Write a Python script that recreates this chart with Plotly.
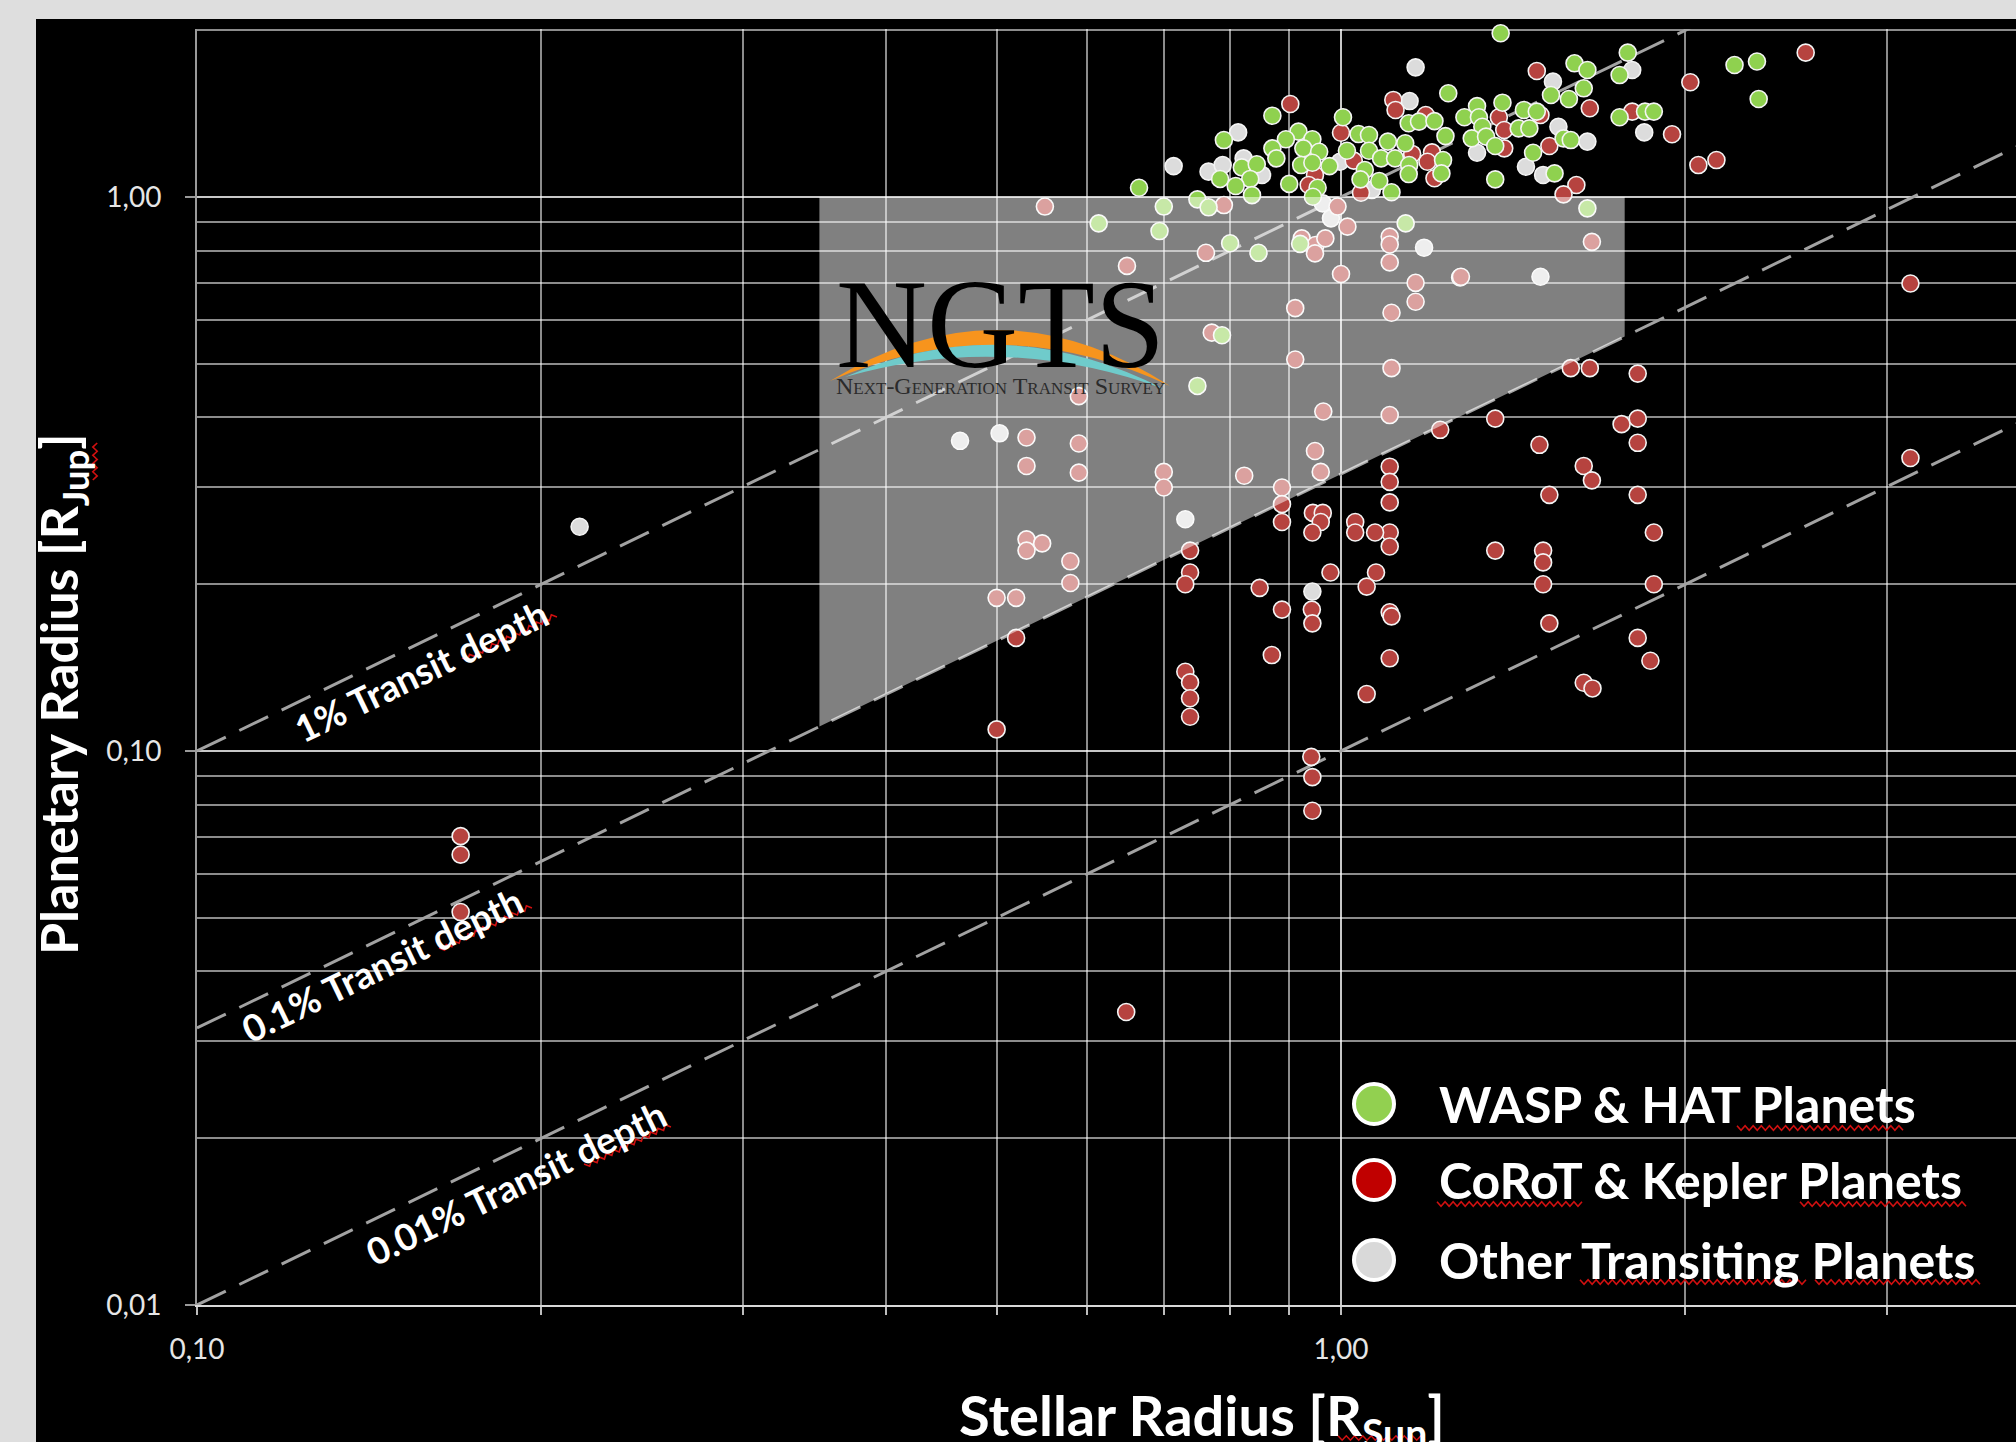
import math
import plotly.graph_objects as go

# ---------------------------------------------------------------
# Known transiting planets: stellar radius [R_sun] vs planet radius [R_jup]
# ---------------------------------------------------------------
wasp_hat_rs = [1.241, 0.871, 1.004, 1.146, 1.170, 1.207, 0.790, 1.036, 1.058, 0.918,
               0.895, 0.944, 0.871, 0.878, 0.927, 0.957, 1.012, 1.058, 1.099, 1.138,
               1.234, 0.819, 0.844, 0.784, 0.833, 0.809, 0.836, 0.923, 0.944, 0.977,
               1.084, 1.115, 1.147, 1.146, 1.228, 1.224, 1.049, 0.954, 0.945, 0.901,
               1.040, 1.080, 1.107, 0.666, 0.749, 0.766, 0.700, 0.614, 0.694, 1.139,
               0.921, 0.800, 0.847, 0.787, 0.749, 1.379, 1.781, 1.600, 1.642, 1.752,
               1.630, 1.526, 1.582, 1.384, 1.315, 1.282, 1.320, 1.445, 1.483, 1.752,
               1.844, 1.877, 2.208, 2.310, 2.318, 1.329, 1.430, 1.461, 1.301, 1.339,
               1.364, 1.472, 1.565, 1.588, 1.537, 1.364, 1.642]
wasp_hat_rp = [1.539, 1.402, 1.393, 1.359, 1.368, 1.371, 1.267, 1.299, 1.294, 1.312,
               1.271, 1.271, 1.224, 1.174, 1.224, 1.207, 1.212, 1.212, 1.259, 1.250,
               1.288, 1.131, 1.146, 1.078, 1.078, 1.047, 1.008, 1.142, 1.153, 1.137,
               1.174, 1.174, 1.142, 1.100, 1.166, 1.103, 1.119, 1.039, 1.001, 1.056,
               1.076, 1.069, 1.020, 1.039, 0.990, 0.958, 0.961, 0.896, 0.868, 0.896,
               0.823, 0.825, 0.793, 0.563, 0.456, 1.975, 1.822, 1.743, 1.695, 1.660,
               1.571, 1.528, 1.503, 1.480, 1.459, 1.393, 1.393, 1.436, 1.426, 1.393,
               1.426, 1.426, 1.731, 1.756, 1.503, 1.339, 1.330, 1.330, 1.276, 1.285,
               1.236, 1.202, 1.276, 1.267, 1.103, 1.076, 0.954]

corot_kepler_rs = [1.111, 1.116, 1.186, 0.903, 1.000, 1.154, 1.201, 1.190, 1.026, 1.207,
                   0.949, 0.937, 1.041, 0.790, 0.551, 0.993, 1.013, 0.924, 0.950, 0.949,
                   0.969, 1.103, 1.103, 0.762, 0.650, 1.103, 1.000, 1.162, 1.162, 1.271,
                   0.912, 1.107, 0.771, 0.912, 1.107,
                   1.483, 1.650, 1.374, 1.494, 1.797, 1.947, 2.020, 2.548, 2.053, 2.129,
                   1.389, 1.389, 1.521, 1.606, 1.565, 1.657, 1.273, 3.146, 1.588, 1.650,
                   1.817,
                   0.590, 0.965, 1.103, 0.531, 0.590, 0.531, 0.590, 0.949, 0.960, 0.700,
                   0.700, 0.823, 0.888, 0.888, 0.888, 1.221, 1.103, 1.103, 1.103, 1.103,
                   1.103, 0.945, 0.964, 0.960, 0.944, 1.029, 1.029, 1.071, 0.531, 0.548,
                   0.531, 0.580, 0.580, 0.500, 0.520, 0.738, 0.738, 0.731, 0.849, 0.979,
                   1.073, 1.053, 0.888, 0.943, 0.944, 1.103, 1.107, 0.520, 0.870, 1.103,
                   0.731, 0.738, 0.738, 0.738, 1.053, 0.500, 0.942, 0.944, 0.944,
                   1.364, 1.759, 1.817, 1.817, 1.491, 1.630, 1.657, 1.521, 1.817, 1.877,
                   1.364, 1.502, 1.502, 1.502, 1.877, 1.521, 1.817, 1.864, 1.630, 1.659,
                   3.146,
                   0.170, 0.170, 0.170, 0.649]
corot_kepler_rp = [1.497, 1.436, 1.406, 1.472, 1.306, 1.196, 1.204, 1.158, 1.163, 1.081,
                   1.096, 1.051, 1.018, 0.967, 0.961, 0.961, 0.884, 0.842, 0.819, 0.791,
                   0.842, 0.848, 0.821, 0.793, 0.751, 0.762, 0.726, 0.700, 0.647, 0.716,
                   0.630, 0.618, 0.569, 0.509, 0.491,
                   1.688, 1.446, 1.393, 1.406, 1.426, 1.298, 1.611, 1.822, 1.142, 1.166,
                   1.321, 1.224, 1.236, 1.051, 1.011, 0.830, 0.718, 0.698, 0.491, 0.491,
                   0.480,
                   0.437, 0.410, 0.404, 0.368, 0.359, 0.327, 0.318, 0.348, 0.319, 0.319,
                   0.299, 0.314, 0.299, 0.279, 0.259, 0.380, 0.326, 0.306, 0.281, 0.248,
                   0.234, 0.269, 0.269, 0.259, 0.248, 0.259, 0.248, 0.248, 0.241, 0.237,
                   0.230, 0.220, 0.201, 0.189, 0.189, 0.230, 0.210, 0.200, 0.197, 0.210,
                   0.210, 0.198, 0.180, 0.180, 0.170, 0.178, 0.175, 0.160, 0.149, 0.147,
                   0.139, 0.133, 0.1245, 0.1153, 0.1267, 0.1094, 0.0976, 0.0897, 0.0780,
                   0.398, 0.389, 0.398, 0.360, 0.357, 0.327, 0.308, 0.290, 0.290, 0.248,
                   0.230, 0.230, 0.219, 0.200, 0.200, 0.170, 0.160, 0.1455, 0.1328, 0.1297,
                   0.338,
                   0.0702, 0.0650, 0.0512, 0.0338]

other_rs = [1.162, 1.148, 0.813, 0.714, 0.766, 0.788, 0.822, 0.853, 0.998, 1.064,
            0.964, 0.980, 1.182, 1.532, 1.797, 1.549, 1.841, 1.315, 1.642, 1.451,
            1.502, 1.494, 0.4645, 0.503, 0.731, 0.944, 0.216]
other_rp = [1.714, 1.490, 1.308, 1.137, 1.111, 1.142, 1.174, 1.096, 1.158, 1.030,
            0.974, 0.915, 0.810, 1.615, 1.695, 1.339, 1.308, 1.202, 1.259, 1.134,
            1.096, 0.718, 0.363, 0.3745, 0.262, 0.194, 0.254]

# Transit depth guide lines (depth = (Rp/Rs)^2)
transit_depths = [0.01, 0.001, 0.0001]
transit_labels = ["1% Transit depth", "0.1% Transit depth", "0.01% Transit depth"]
label_rs = [0.157, 0.145, 0.190]
label_yshift = [-28, -26, -32]
guide_rs = [0.1, 4.0]
R_JUP_IN_RSUN = 0.1

# NGTS sensitivity window
ngts_rs = [0.35, 1.77]
ngts_rp_max = 1.0
ngts_depth_min = 0.001

x_tickvals = [0.1, 1.0]
x_ticktext = ["0,10", "1,00"]
y_tickvals = [0.01, 0.1, 1.0]
y_ticktext = ["0,01", "0,10", "1,00"]
x_minor = [0.2, 0.3, 0.4, 0.5, 0.6, 0.7, 0.8, 0.9, 2, 3]
y_minor = [0.02, 0.03, 0.04, 0.05, 0.06, 0.07, 0.08, 0.09,
           0.2, 0.3, 0.4, 0.5, 0.6, 0.7, 0.8, 0.9, 2]

legend_names = ["WASP & HAT Planets", "CoRoT & Kepler Planets", "Other Transiting Planets"]
legend_colors = ["#92d050", "#c00000", "#d9d9d9"]

GREEN = "#8fd14f"
RED = "#b6433f"
GREY = "#dcdcdc"

# ---------------------------------------------------------------
W, H = 2016, 1442
ML, MT, MB = 197, 29, 137
PW, PH = W - ML, H - MT - MB
DEC_X, DEC_Y = 1144.0, 554.0
SLOPE_DEG = math.degrees(math.atan(DEC_Y / DEC_X))


def px(X):
    return (X - ML) / PW


def py(Y):
    return (H - MB - Y) / PH


def rp_on_depth(rs, depth):
    return rs * math.sqrt(depth) / R_JUP_IN_RSUN


def squiggle(X0, Y0, X1, Y1, amp=2.2, step=4.0):
    """Wavy spell-check style underline between two pixel points."""
    length = math.hypot(X1 - X0, Y1 - Y0)
    ux, uy = (X1 - X0) / length, (Y1 - Y0) / length
    nx, ny = -uy, ux
    n = max(2, int(length / step))
    pts = []
    for i in range(n + 1):
        t = i / n * length
        s = amp if i % 2 else -amp
        pts.append((X0 + ux * t + nx * s, Y0 + uy * t + ny * s))
    path = "M " + " L ".join(f"{px(a)},{py(b)}" for a, b in pts)
    return dict(type="path", xref="paper", yref="paper", path=path,
                line=dict(color="#d01010", width=1.6), layer="above")


fig = go.Figure()

# dashed transit depth guides
for d in transit_depths:
    fig.add_trace(go.Scatter(
        x=guide_rs, y=[rp_on_depth(r, d) for r in guide_rs],
        mode="lines", line=dict(color="#a2a2a2", width=3, dash="32px,15px"),
        hoverinfo="skip", showlegend=False))

marker_line = dict(color="#f4f4f4", width=1.6)
fig.add_trace(go.Scatter(x=other_rs, y=other_rp, mode="markers", name=legend_names[2],
                         marker=dict(size=17, color=GREY, line=marker_line),
                         cliponaxis=False, showlegend=False))
fig.add_trace(go.Scatter(x=corot_kepler_rs, y=corot_kepler_rp, mode="markers",
                         name=legend_names[1],
                         marker=dict(size=17, color=RED, line=marker_line),
                         cliponaxis=False, showlegend=False))
fig.add_trace(go.Scatter(x=wasp_hat_rs, y=wasp_hat_rp, mode="markers", name=legend_names[0],
                         marker=dict(size=17, color=GREEN, line=marker_line),
                         cliponaxis=False, showlegend=False))

# translucent NGTS window drawn over the points
box_x = [ngts_rs[0], ngts_rs[1], ngts_rs[1], ngts_rs[0], ngts_rs[0]]
box_y = [ngts_rp_max, ngts_rp_max, rp_on_depth(ngts_rs[1], ngts_depth_min),
         rp_on_depth(ngts_rs[0], ngts_depth_min), ngts_rp_max]
fig.add_trace(go.Scatter(x=box_x, y=box_y, mode="lines", fill="toself",
                         fillcolor="rgba(255,255,255,0.5)", line=dict(width=0),
                         hoverinfo="skip", showlegend=False))

shapes = [
    dict(type="rect", xref="paper", yref="paper", x0=px(36), x1=px(W) + 0.01,
         y0=py(H) - 0.01, y1=py(19), fillcolor="black", line=dict(width=0), layer="below"),
]


def crescent(x0, y0, x1, y1, top_peak, bottom_peak):
    c1 = 2 * top_peak - 0.5 * (y0 + y1)
    c2 = 2 * bottom_peak - 0.5 * (y0 + y1)
    xm = 0.5 * (x0 + x1)
    return (f"M {px(x0)},{py(y0)} Q {px(xm)},{py(c1)} {px(x1)},{py(y1)} "
            f"Q {px(xm)},{py(c2)} {px(x0)},{py(y0)} Z")


shapes.append(dict(type="path", xref="paper", yref="paper",
                   path=crescent(830, 381, 1170, 386, 330, 345),
                   fillcolor="#f7941d", line=dict(width=0), layer="above"))
shapes.append(dict(type="path", xref="paper", yref="paper",
                   path=crescent(845, 377, 1164, 389, 345, 357),
                   fillcolor="#6fcbcb", line=dict(width=0), layer="above"))

legend_y = [1104, 1180, 1260]
for cy, col in zip(legend_y, legend_colors):
    shapes.append(dict(type="circle", xref="paper", yref="paper",
                       x0=px(1374 - 20), x1=px(1374 + 20), y0=py(cy + 20), y1=py(cy - 20),
                       fillcolor=col, line=dict(color="white", width=4), layer="above"))

# spell-check underlines under the slide's text
for seg in [(1737, 1128, 1903, 1128),
            (1437, 1204, 1582, 1204), (1800, 1204, 1966, 1204),
            (1580, 1282, 1806, 1282), (1815, 1282, 1980, 1282),
            (1338, 1438, 1425, 1438)]:
    shapes.append(squiggle(*seg))
for seg in [(463, 660, 556, 615), (440, 950, 531, 906), (585, 1166, 670, 1125),
            (95, 480, 95, 443)]:
    shapes.append(squiggle(*seg))

annotations = []
for name, cy in zip(legend_names, legend_y):
    annotations.append(dict(xref="paper", yref="paper", x=px(1437), y=py(cy),
                            xanchor="left", yanchor="middle", showarrow=False, text=name,
                            font=dict(family="Lato", size=50, color="white", weight=700)))

for lab, rs, d, ys in zip(transit_labels, label_rs, transit_depths, label_yshift):
    annotations.append(dict(xref="x", yref="y", x=math.log10(rs),
                            y=math.log10(rp_on_depth(rs, d)), yshift=ys,
                            text=lab, textangle=-SLOPE_DEG,
                            showarrow=False, xanchor="center", yanchor="middle",
                            font=dict(family="Lato", size=37, color="white", weight=700)))

annotations.append(dict(xref="paper", yref="paper", x=px(1000), y=py(324), text="NGTS",
                        showarrow=False, xanchor="center", yanchor="middle",
                        font=dict(family="Liberation Serif", size=126, color="black")))
annotations.append(dict(xref="paper", yref="paper", x=px(1000), y=py(386),
                        text="Next-Generation Transit Survey", showarrow=False,
                        xanchor="center", yanchor="middle",
                        font=dict(family="Liberation Serif", size=24, color="#2b2b2b",
                                  variant="small-caps")))

annotations.append(dict(xref="paper", yref="paper", x=px(62), y=py(695),
                        text="Planetary Radius [R<sub>Jup</sub>]", textangle=-90,
                        showarrow=False, xanchor="center", yanchor="middle",
                        font=dict(family="Lato", size=52, color="white", weight=700)))
annotations.append(dict(xref="paper", yref="paper", x=px(1202), y=py(1418),
                        text="Stellar Radius [R<sub>Sun</sub>]",
                        showarrow=False, xanchor="center", yanchor="middle",
                        font=dict(family="Lato", size=56, color="white", weight=700)))

tick_font = dict(family="Lato", size=28, color="#e6e6e6")
fig.update_layout(
    width=W, height=H, margin=dict(l=ML, r=0, t=MT, b=MB, pad=0),
    paper_bgcolor="#dedede", plot_bgcolor="black",
    shapes=shapes, annotations=annotations, showlegend=False,
    xaxis=dict(type="log", range=[-1, -1 + PW / DEC_X], tickmode="array",
               tickvals=x_tickvals, ticktext=x_ticktext, tickfont=tick_font,
               ticks="outside", ticklen=8, tickwidth=2, tickcolor="#bdbdbd",
               ticklabelstandoff=10,
               showgrid=True, gridcolor="rgba(255,255,255,0.78)", gridwidth=2,
               minor=dict(tickmode="array", tickvals=x_minor, showgrid=True,
                          gridcolor="rgba(255,255,255,0.55)", gridwidth=2,
                          ticks="outside", ticklen=8, tickwidth=2, tickcolor="#bdbdbd"),
               showline=True, linecolor="#d8d8d8", linewidth=2, zeroline=False),
    yaxis=dict(type="log", range=[-2, -2 + PH / DEC_Y], tickmode="array",
               tickvals=y_tickvals, ticktext=y_ticktext, tickfont=tick_font,
               ticks="outside", ticklen=10, tickwidth=2, tickcolor="#9a9a9a",
               ticklabelstandoff=18,
               showgrid=True, gridcolor="rgba(255,255,255,0.78)", gridwidth=2,
               minor=dict(tickmode="array", tickvals=y_minor, showgrid=True,
                          gridcolor="rgba(255,255,255,0.55)", gridwidth=2, ticks=""),
               showline=True, linecolor="#9a9a9a", linewidth=2, zeroline=False),
)

fig.write_html("out.html")
